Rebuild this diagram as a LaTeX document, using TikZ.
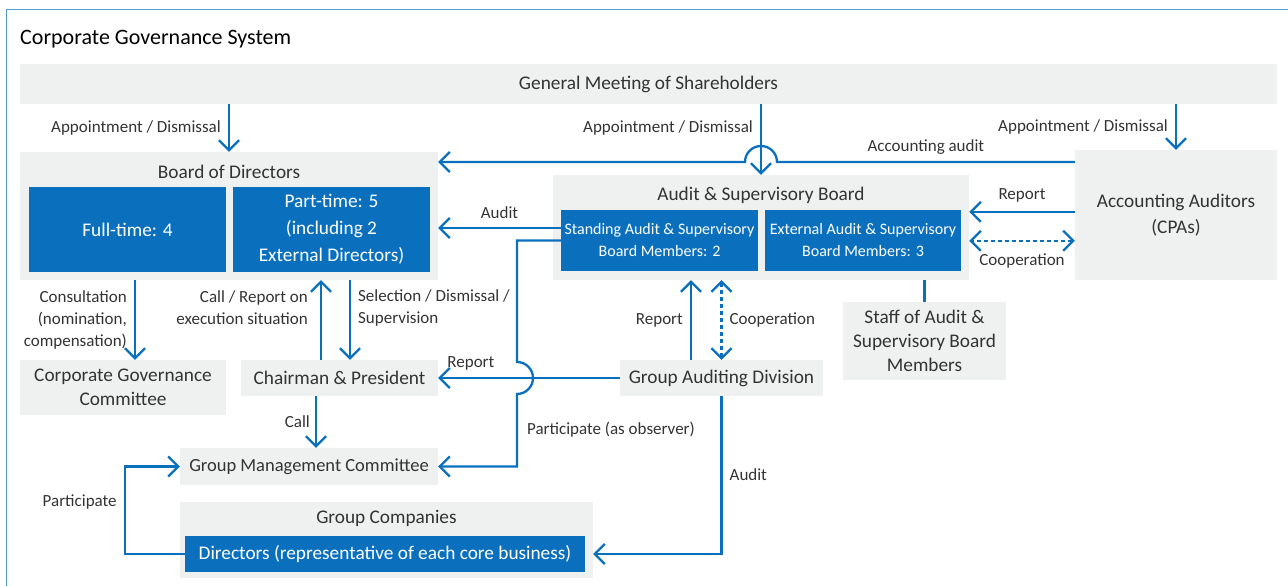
\documentclass[tikz,border=0pt]{standalone}
\usepackage{fontspec}
\setmainfont{Carlito}
\usetikzlibrary{arrows.meta, positioning}
\definecolor{cgblue}{HTML}{0A70BE}
\definecolor{cggray}{HTML}{EFF0F0}
\definecolor{cgtext}{HTML}{333333}

\begin{document}
\begin{tikzpicture}[x=1pt,y=1pt,>={Straight Barb[length=10pt,width=20pt]},
  font=\fontsize{19.3}{25}\selectfont,text=cgtext]
\tikzstyle{graybox}=[fill=cggray,inner sep=0pt,align=center]
\tikzstyle{bluebox}=[fill=cgblue,text=white,inner sep=0pt,align=center]
\tikzstyle{link}=[draw=cgblue,line width=2.3pt]
\tikzstyle{coop}=[link,dash pattern=on 4pt off 3pt]
\tikzstyle{lbl}=[font=\fontsize{17}{22}\selectfont,text=cgtext,inner sep=7pt]

\useasboundingbox (0,0) rectangle (1288,586);
\draw[cgblue!70,line width=1pt] (6,0) -- (6,576) -- (1288,576);
\node[anchor=west,inner sep=0pt,text=black,font=\fontsize{22}{26}\selectfont] (title) at (20,547) {Corporate Governance System};

%-- Boxes --
\node[graybox,minimum width=1257pt,minimum height=40pt] (gm) at (648.5,502) {General Meeting of Shareholders};

\node[graybox,minimum width=418pt,minimum height=128pt] (bod) at (229,370) {};
\node[inner sep=0pt] (bodtitle) at (229,414) {Board of Directors};
\node[bluebox,minimum width=197pt,minimum height=85pt] (ft) at (127.5,356.5) {Full-time: 4};
\node[bluebox,minimum width=197pt,minimum height=85pt,font=\fontsize{19.3}{27}\selectfont] (pt) at (331.5,356.5) {Part-time: 5\\(including 2\\External Directors)};

\node[graybox,minimum width=416pt,minimum height=105pt] (asb) at (761,358.5) {};
\node[inner sep=0pt] (asbtitle) at (761,391) {Audit \& Supervisory Board};
\node[bluebox,minimum width=197pt,minimum height=61pt,font=\fontsize{16}{22}\selectfont] (sa) at (659.5,345.5) {Standing Audit \& Supervisory\\Board Members: 2};
\node[bluebox,minimum width=196pt,minimum height=61pt,font=\fontsize{16}{22}\selectfont] (ea) at (863,345.5) {External Audit \& Supervisory\\Board Members: 3};

\node[graybox,minimum width=202pt,minimum height=130pt,font=\fontsize{19.3}{26}\selectfont] (aa) at (1176,371) {Accounting Auditors\\(CPAs)};
\node[graybox,minimum width=163pt,minimum height=78pt,font=\fontsize{19.3}{24}\selectfont] (staff) at (924.5,245) {Staff of Audit \&\\Supervisory Board\\Members};

\node[graybox,minimum width=206pt,minimum height=55pt,font=\fontsize{19.3}{24}\selectfont] (cgc) at (123,198.5) {Corporate Governance\\Committee};
\node[graybox,minimum width=197pt,minimum height=36pt] (cp) at (339.5,208) {Chairman \& President};
\node[graybox,minimum width=203pt,minimum height=36pt] (gad) at (721.5,208) {Group Auditing Division};
\node[graybox,minimum width=258pt,minimum height=37pt,font=\fontsize{18.5}{24}\selectfont] (gmc) at (309,119.5) {Group Management Committee};

\node[graybox,minimum width=413pt,minimum height=76pt] (gc) at (386.5,46) {};
\node[inner sep=0pt] (gctitle) at (386.5,68) {Group Companies};
\node[bluebox,minimum width=400pt,minimum height=36pt] (dir) at (385,32) {Directors (representative of each core business)};

\coordinate (hopa) at (761,424);
\coordinate (hopb) at (517,208);

%-- Connectors --
\path[->]
  % General Meeting
  (gm.south -| bod.north) edge[link] node[lbl,left] {Appointment / Dismissal} (bod.north)
  (gm.south -| asb.north) edge[link] node[lbl,left,pos=0.33] {Appointment / Dismissal} (asb.north)
  (gm.south -| aa.north) edge[link] node[lbl,left] {Appointment / Dismissal} (aa.north)

  % Audit & Supervisory Board
  ([yshift=12.5pt]sa.west) edge[link] node[lbl,above,inner sep=8pt] {Audit} ([yshift=12.5pt]sa.west -| bod.east)
  (staff.north) edge[link,-] (staff.north |- asb.south)

  % Accounting Auditors
  ([yshift=-62pt]aa.north west) edge[link] node[lbl,above,inner sep=8pt] {Report} ([yshift=-62pt]aa.north west -| asb.east)

  % Board of Directors / Chairman & President
  ([xshift=12pt]cgc.north |- bod.south) edge[link] node[lbl,left,align=right] {Consultation\\(nomination,\\compensation)} ([xshift=12pt]cgc.north)
  ([xshift=-18.5pt]cp.north) edge[link] node[lbl,left,align=right,pos=0.65,inner sep=12pt] {Call / Report on\\execution situation} ([xshift=-18.5pt]cp.north |- bod.south)
  ([xshift=10.5pt]cp.north |- bod.south) edge[link] node[lbl,right,align=left,pos=0.35] {Selection / Dismissal /\\Supervision} ([xshift=10.5pt]cp.north)
  ([xshift=-23.5pt]cp.south) edge[link] node[lbl,left,inner sep=5pt] {Call} ([xshift=-23.5pt]cp.south |- gmc.north)

  % Group Auditing Division
  ([xshift=-30.5pt]gad.north) edge[link] node[lbl,left] {Report} ([xshift=-30.5pt]gad.north |- asb.south)
  (gad.west) edge[link] node[lbl,above,pos=0.82,inner sep=7pt] {Report} (cp.east);

\draw[coop,<->] ([yshift=-91pt]aa.north west) -- node[lbl,below,inner sep=12pt] {Cooperation} ([yshift=-91pt]aa.north west -| asb.east);
\draw[coop,<->] (gad.north) -- node[lbl,right] {Cooperation} (gad.north |- asb.south);

\draw[link,->] (aa.west |- hopa) -- node[lbl,above,inner sep=6pt] {Accounting audit} ([xshift=16pt]hopa)
  arc[start angle=0,end angle=180,radius=16pt] -- (bod.east |- hopa);
\draw[link,->] (sa.west) -| ([yshift=16pt]hopb) arc[start angle=90,end angle=-90,radius=16pt]
  -- node[lbl,right,anchor=west,inner sep=9pt] {Participate (as observer)} ([yshift=-88pt]hopb) |- (gmc.east);
\draw[link,->] (gad.south) -- node[lbl,right,pos=0.5] {Audit} (gad.south |- dir.east) -- (gc.east |- dir.east);
\draw[link,->] (dir.west) -- ++(-60pt,0) -- node[lbl,left,pos=0.6] {Participate} ++(0,87.5pt) -- (gmc.west);

\end{tikzpicture}
\end{document}
